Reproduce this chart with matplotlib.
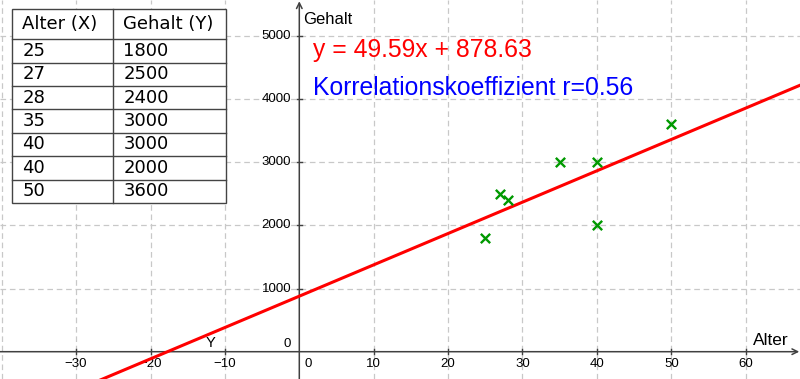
import numpy as np
import matplotlib
matplotlib.use("Agg")
import matplotlib.pyplot as plt

# data (from the table)
alter = [25, 27, 28, 35, 40, 40, 50]
gehalt = [1800, 2500, 2400, 3000, 3000, 2000, 3600]
slope = 49.59
intercept = 878.63
r_text = "0.56"

x_ticks = [-40, -30, -20, -10, 0, 10, 20, 30, 40, 50, 60]
y_ticks = [0, 1000, 2000, 3000, 4000, 5000]
x_min, x_max = -40.23, 67.3
y_min, y_max = -432, 5565

fig = plt.figure(figsize=(8, 3.79), dpi=100)
ax = fig.add_axes([0, 0, 1, 1])
ax.set_xlim(x_min, x_max)
ax.set_ylim(y_min, y_max)

grid_col = "#c8c8c8"
for xt in x_ticks:
    if xt != 0:
        ax.axvline(xt, color=grid_col, lw=0.9, dashes=(4.5, 3), zorder=0)
for yt in y_ticks:
    if yt != 0:
        ax.axhline(yt, color=grid_col, lw=0.9, dashes=(4.5, 3), zorder=0)

# axes with arrows
for s in ax.spines.values():
    s.set_visible(False)
axis_col = "#404040"
ax.annotate("", xy=(x_max - 0.1, 0), xytext=(x_min, 0),
            arrowprops=dict(arrowstyle="->", color=axis_col, lw=1.1, shrinkA=0, shrinkB=0))
ax.annotate("", xy=(0, y_max - 20), xytext=(0, y_min),
            arrowprops=dict(arrowstyle="->", color=axis_col, lw=1.1, shrinkA=0, shrinkB=0))

ax.set_xticks([])
ax.set_yticks([])
lab_font = dict(family="Liberation Sans", size=9.5, color="black")
for xt in x_ticks:
    if xt in (0, x_ticks[0]):
        continue
    ax.plot([xt, xt], [-40, 40], color=axis_col, lw=1.0)
    ax.text(xt, -95, str(xt).replace("-", "\u2212"), ha="center", va="top", **lab_font)
for yt in y_ticks:
    if yt == 0:
        continue
    ax.plot([-0.35, 0.35], [yt, yt], color=axis_col, lw=1.0)
    ax.text(-1.1, yt, str(yt), ha="right", va="center", **lab_font)
ax.text(-1.1, 25, "0", ha="right", va="bottom", **lab_font)
ax.text(1.15, -95, "0", ha="center", va="top", **lab_font)

ax.text(61.0, 55, "Alter", ha="left", va="bottom", family="Liberation Sans", size=12.5)
ax.text(0.5, 5260, "Gehalt", ha="left", va="center", family="Liberation Sans", size=12)

# regression line
xs = np.array([x_min, x_max])
ax.plot(xs, slope * xs + intercept, color="red", lw=2.2, zorder=3)
ax.text(-12.0, 140, "Y", ha="center", va="center", family="Liberation Sans", size=10.5)

ax.scatter(alter, gehalt, marker="x", s=45, color="#009900", linewidths=1.7, zorder=4)

ax.text(1.8, 4770, f"y = {slope}x + {intercept}", color="red",
        family="Liberation Sans", size=17.8, ha="left", va="center")
ax.text(1.8, 4170, f"Korrelationskoeffizient r={r_text}", color="blue",
        family="Liberation Sans", size=17.8, ha="left", va="center")

# table overlay in pixel coordinates
tab = fig.add_axes([0, 0, 1, 1])
tab.set_xlim(0, 800)
tab.set_ylim(379, 0)
tab.axis("off")
header = ["Alter (X)", "Gehalt (Y)"]
row_edges = [9.3, 39.3, 62.7, 86, 109.3, 132.7, 156, 180, 203]
col_edges = [12, 112.7, 226]
tab.add_patch(plt.Rectangle((col_edges[0], row_edges[0]), col_edges[-1] - col_edges[0],
                            row_edges[-1] - row_edges[0], facecolor="white",
                            edgecolor="#444444", lw=1.0, zorder=1))
for ry in row_edges[1:-1]:
    tab.plot([col_edges[0], col_edges[-1]], [ry, ry], color="#444444", lw=1.0, zorder=2)
tab.plot([col_edges[1], col_edges[1]], [row_edges[0], row_edges[-1]], color="#444444", lw=1.0, zorder=2)
cells = [header] + [[str(a), str(g)] for a, g in zip(alter, gehalt)]
for i, row in enumerate(cells):
    yc = (row_edges[i] + row_edges[i + 1]) / 2
    for j, val in enumerate(row):
        tab.text(col_edges[j] + 10.5, yc, val, ha="left", va="center",
                 family="DejaVu Sans", size=13, color="black", zorder=3)

fig.savefig("out.png", dpi=100)
